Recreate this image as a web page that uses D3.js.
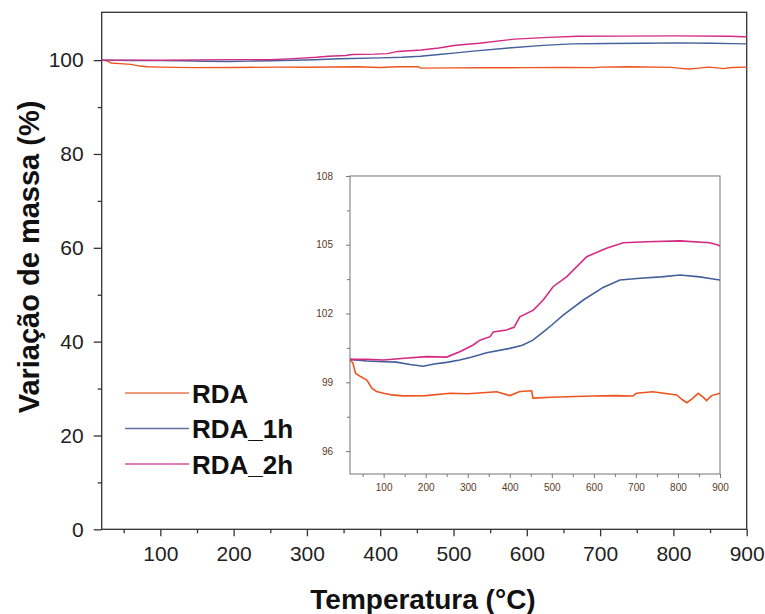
<!DOCTYPE html>
<html>
<head>
<meta charset="utf-8">
<script src="https://cdn.jsdelivr.net/npm/d3@7"></script>
<style>
  body { margin: 0; background: #fff; }
  svg { display: block; font-family: Arial, "Liberation Sans", sans-serif; }
</style>
</head>
<body>
<svg id="chart" width="765" height="614"></svg>
<script>
// series (temperature in °C, mass change in %)
const seriesNames = ["RDA", "RDA_1h", "RDA_2h"];
const seriesColors = ["#ec5520", "#44609c", "#d42a82"];
const legendColors = ["#e8774f", "#63719e", "#d0529a"];

const rdaTemp = [20, 27, 33, 45, 60, 72, 83, 100, 120, 146, 200, 258, 300, 369, 400, 424, 452, 455, 500, 535, 598, 650, 693, 701, 740, 797, 810, 821, 835, 848, 860, 868, 880, 900];
const rdaMass = [100, 99.84, 99.4, 99.25, 99.1, 98.74, 98.6, 98.52, 98.45, 98.41, 98.42, 98.52, 98.5, 98.59, 98.42, 98.6, 98.63, 98.31, 98.35, 98.37, 98.4, 98.42, 98.4, 98.52, 98.59, 98.45, 98.25, 98.11, 98.3, 98.52, 98.35, 98.2, 98.42, 98.52];

const rda1hTemp = [20, 60, 100, 130, 163, 194, 220, 250, 281, 310, 345, 400, 430, 455, 480, 500, 527, 575, 622, 662, 710, 760, 805, 852, 880, 900];
const rda1hMass = [100, 99.93, 99.9, 99.88, 99.78, 99.7, 99.8, 99.87, 99.97, 100.1, 100.29, 100.48, 100.62, 100.84, 101.2, 101.5, 101.93, 102.59, 103.14, 103.46, 103.54, 103.6, 103.68, 103.6, 103.52, 103.46];

const rda2hTemp = [20, 60, 100, 150, 202, 250, 281, 313, 329, 353, 361, 392, 410, 424, 456, 480, 503, 535, 583, 630, 670, 726, 805, 876, 895, 900];
const rda2hMass = [100, 100, 99.97, 100.05, 100.12, 100.1, 100.33, 100.63, 100.84, 100.99, 101.2, 101.28, 101.4, 101.86, 102.15, 102.6, 103.17, 103.6, 104.48, 104.85, 105.09, 105.13, 105.17, 105.09, 104.99, 104.95];

const xTicks = [100, 200, 300, 400, 500, 600, 700, 800, 900];
const yTicksMain = [0, 20, 40, 60, 80, 100];
const yTicksInset = [96, 99, 102, 105, 108];

const series = [
  { name: seriesNames[0], temp: rdaTemp, mass: rdaMass },
  { name: seriesNames[1], temp: rda1hTemp, mass: rda1hMass },
  { name: seriesNames[2], temp: rda2hTemp, mass: rda2hMass }
].map((s, i) => ({ ...s, color: seriesColors[i], legend: legendColors[i],
  points: s.temp.map((t, j) => [t, s.mass[j]]) }));

const svg = d3.select("#chart");

// ---------- main plot ----------
const main = { left: 101.7, right: 746.7, top: 12.3, bottom: 529.3 };
const x = d3.scaleLinear().domain([20, 900]).range([main.left, main.right]);
const y = d3.scaleLinear().domain([0, 110.2]).range([main.bottom, main.top]);

const g = svg.append("g");

// frame
g.append("rect")
  .attr("x", main.left).attr("y", main.top)
  .attr("width", main.right - main.left).attr("height", main.bottom - main.top)
  .attr("fill", "none").attr("stroke", "#333").attr("stroke-width", 1.3);

// minor ticks
g.append("g").attr("transform", `translate(0,${main.bottom})`)
  .call(d3.axisBottom(x).tickValues(d3.range(50, 901, 100)).tickSize(4).tickFormat(""))
  .call(a => a.select(".domain").remove())
  .call(a => a.selectAll("line").attr("stroke", "#333").attr("stroke-width", 1.3));
g.append("g").attr("transform", `translate(${main.left},0)`)
  .call(d3.axisLeft(y).tickValues(d3.range(10, 110, 20)).tickSize(4).tickFormat(""))
  .call(a => a.select(".domain").remove())
  .call(a => a.selectAll("line").attr("stroke", "#333").attr("stroke-width", 1.3));

// major ticks
g.append("g").attr("transform", `translate(0,${main.bottom})`)
  .call(d3.axisBottom(x).tickValues(xTicks).tickSize(7).tickPadding(10))
  .call(a => a.select(".domain").remove())
  .call(a => a.selectAll("line").attr("stroke", "#333").attr("stroke-width", 1.3))
  .call(a => a.selectAll("text").attr("font-size", 21).attr("fill", "#222")
    .attr("font-family", "Arial, 'Liberation Sans', sans-serif"));
g.append("g").attr("transform", `translate(${main.left},0)`)
  .call(d3.axisLeft(y).tickValues(yTicksMain).tickSize(8).tickPadding(10))
  .call(a => a.select(".domain").remove())
  .call(a => a.selectAll("line").attr("stroke", "#333").attr("stroke-width", 1.3))
  .call(a => a.selectAll("text").attr("font-size", 21).attr("fill", "#222")
    .attr("font-family", "Arial, 'Liberation Sans', sans-serif"));

const mainLine = d3.line().x(d => x(d[0])).y(d => y(d[1]));
g.selectAll(".main-line").data(series).join("path")
  .attr("class", "main-line")
  .attr("d", d => mainLine(d.points))
  .attr("fill", "none").attr("stroke", d => d.color).attr("stroke-width", 1.4);

// axis titles
svg.append("text")
  .attr("x", 423).attr("y", 609)
  .attr("text-anchor", "middle")
  .attr("font-size", 28).attr("font-weight", "bold").attr("fill", "#111")
  .text("Temperatura (°C)");
svg.append("text")
  .attr("transform", "translate(39,257) rotate(-90)")
  .attr("text-anchor", "middle")
  .attr("font-size", 29).attr("font-weight", "bold").attr("fill", "#111")
  .text("Variação de massa (%)");

// legend
const legend = svg.append("g");
series.forEach((s, i) => {
  const ly = 393 + i * 35.5;
  legend.append("line")
    .attr("x1", 125).attr("x2", 189).attr("y1", ly).attr("y2", ly)
    .attr("stroke", s.legend).attr("stroke-width", 1.6);
  legend.append("text")
    .attr("x", 192).attr("y", ly + 9.5)
    .attr("font-size", 26).attr("font-weight", "bold").attr("fill", "#111")
    .text(s.name);
});

// ---------- inset ----------
const ins = { left: 350, right: 720, top: 176, bottom: 474 };
const xi = d3.scaleLinear().domain([20, 900]).range([ins.left, ins.right]);
const yi = d3.scaleLinear().domain([95, 108]).range([ins.bottom, ins.top]);
const gi = svg.append("g");

gi.append("rect")
  .attr("x", ins.left).attr("y", ins.top)
  .attr("width", ins.right - ins.left).attr("height", ins.bottom - ins.top)
  .attr("fill", "#fff").attr("stroke", "#8a8a8a").attr("stroke-width", 1.2);

gi.append("g").attr("transform", `translate(0,${ins.bottom})`)
  .call(d3.axisBottom(xi).tickValues(d3.range(50, 901, 100)).tickSize(3).tickFormat(""))
  .call(a => a.select(".domain").remove())
  .call(a => a.selectAll("line").attr("stroke", "#777"));
gi.append("g").attr("transform", `translate(${ins.left},0)`)
  .call(d3.axisLeft(yi).tickValues([97.5, 100.5, 103.5, 106.5]).tickSize(3).tickFormat(""))
  .call(a => a.select(".domain").remove())
  .call(a => a.selectAll("line").attr("stroke", "#777"));

gi.append("g").attr("transform", `translate(0,${ins.bottom})`)
  .call(d3.axisBottom(xi).tickValues(xTicks).tickSize(4).tickPadding(6))
  .call(a => a.select(".domain").remove())
  .call(a => a.selectAll("line").attr("stroke", "#777"))
  .call(a => a.selectAll("text").attr("font-size", 10).attr("fill", "#5a3a1e")
    .attr("font-family", "Arial, 'Liberation Sans', sans-serif"));
gi.append("g").attr("transform", `translate(${ins.left},0)`)
  .call(d3.axisLeft(yi).tickValues(yTicksInset).tickSize(4).tickPadding(13))
  .call(a => a.select(".domain").remove())
  .call(a => a.selectAll("line").attr("stroke", "#777"))
  .call(a => a.selectAll("text").attr("font-size", 10).attr("fill", "#5a3a1e")
    .attr("font-family", "Arial, 'Liberation Sans', sans-serif"));

const insetLine = d3.line().x(d => xi(d[0])).y(d => yi(d[1]));
gi.selectAll(".inset-line").data(series).join("path")
  .attr("class", "inset-line")
  .attr("d", d => insetLine(d.points))
  .attr("fill", "none").attr("stroke", d => d.color).attr("stroke-width", 1.6);
</script>
</body>
</html>
